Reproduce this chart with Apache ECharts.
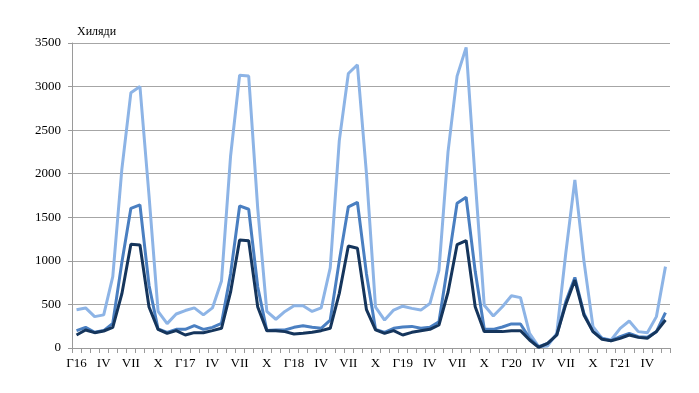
<!DOCTYPE html>
<html>
<head>
<meta charset="utf-8">
<script src="https://cdn.jsdelivr.net/npm/echarts@6/dist/echarts.min.js"></script>
<style>html,body{margin:0;padding:0;background:#fff}#c{width:699px;height:393px}</style>
</head>
<body>
<div id="c"></div>
<script>
const categories = [
 "Г16","II","III","IV","V","VI","VII","VIII","IX","X","XI","XII",
 "Г17","II","III","IV","V","VI","VII","VIII","IX","X","XI","XII",
 "Г18","II","III","IV","V","VI","VII","VIII","IX","X","XI","XII",
 "Г19","II","III","IV","V","VI","VII","VIII","IX","X","XI","XII",
 "Г20","II","III","IV","V","VI","VII","VIII","IX","X","XI","XII",
 "Г21","II","III","IV","V","VI"
];
const seriesLight = [
 440,460,360,380,820,2050,2930,3000,1750,420,280,390,
 430,460,380,460,770,2200,3130,3120,1600,420,330,420,
 485,485,420,460,920,2380,3150,3250,2000,470,320,435,
 480,455,435,510,890,2250,3120,3450,1930,490,367,474,
 600,578,168,15,23,168,1090,1930,1000,245,111,92,
 226,310,188,176,360,934
];
const seriesMedium = [
 200,237,180,200,283,980,1603,1642,720,218,180,214,
 214,256,214,237,283,850,1630,1592,700,200,207,207,
 237,256,237,226,321,1000,1620,1672,850,214,180,226,
 241,248,226,237,302,970,1661,1730,880,218,214,241,
 276,276,111,15,54,149,532,810,398,188,111,84,
 130,168,130,122,188,405
];
const seriesDark = [
 149,207,176,195,237,620,1190,1183,470,214,168,199,
 149,176,176,199,226,640,1240,1230,470,199,199,188,
 161,168,180,199,226,627,1171,1144,440,207,168,199,
 149,180,199,214,264,640,1185,1233,474,188,188,188,
 199,199,92,8,54,149,500,780,379,188,100,84,
 111,149,122,111,188,321
];
const yTicks = [0,500,1000,1500,2000,2500,3000,3500];
const unitLabel = "Хиляди";

const chart = echarts.init(document.getElementById('c'), null, {renderer:'canvas'});
const serif = '"Liberation Serif","DejaVu Serif",serif';
function mk(data, color){
  return {type:'line', data:data, symbol:'none', smooth:false,
    lineStyle:{color:color,width:3}, itemStyle:{color:color}, animation:false};
}
chart.setOption({
  animation:false,
  title:{text:unitLabel,left:72,top:21,textStyle:{fontFamily:serif,fontSize:12,fontWeight:'normal',color:'#000'}},
  grid:{left:72,right:29,top:43,bottom:45,containLabel:false},
  xAxis:{type:'category',data:categories,boundaryGap:true,
    axisLine:{lineStyle:{color:'#9a9a9a',width:1}},
    axisTick:{show:true,interval:0,length:5,alignWithLabel:false,lineStyle:{color:'#9a9a9a'}},
    axisLabel:{interval:2,fontFamily:serif,fontSize:13,color:'#000',margin:9}},
  yAxis:{type:'value',min:yTicks[0],max:yTicks[yTicks.length-1],interval:500,
    axisLine:{show:true,lineStyle:{color:'#9a9a9a',width:1}},
    axisTick:{show:true,length:4,lineStyle:{color:'#9a9a9a'}},
    splitLine:{lineStyle:{color:'#a6a6a6',width:1}},
    axisLabel:{fontFamily:serif,fontSize:13,color:'#000',margin:11,formatter:function(v){return String(v);}}},
  series:[mk(seriesLight,'#8db4e6'),mk(seriesMedium,'#4a7fc1'),mk(seriesDark,'#15355c')]
});
</script>
</body>
</html>
